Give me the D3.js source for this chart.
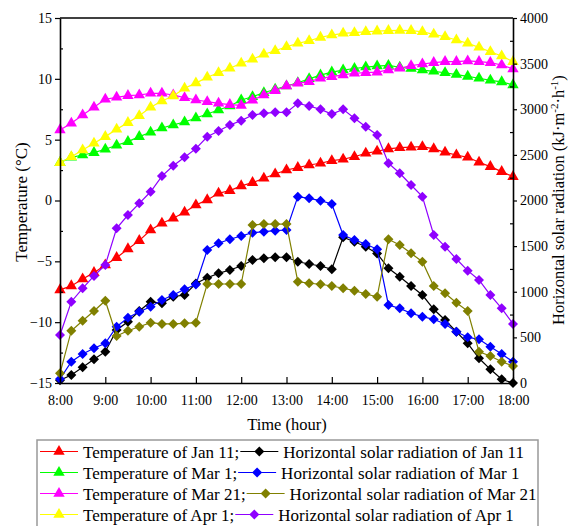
<!DOCTYPE html>
<html>
<head>
<meta charset="utf-8">
<script src="https://cdnjs.cloudflare.com/ajax/libs/d3/7.8.5/d3.min.js"></script>
<style>
  body { margin: 0; background: #fff; }
  svg text { font-family: "Liberation Serif", "Times New Roman", serif; fill: #000; }
</style>
</head>
<body>
<svg id="chart" width="568" height="526"></svg>
<script>
// time of day (hours), one point every 15 min
const times = [8, 8.25, 8.5, 8.75, 9, 9.25, 9.5, 9.75, 10, 10.25, 10.5, 10.75, 11, 11.25, 11.5, 11.75,
    12, 12.25, 12.5, 12.75, 13, 13.25, 13.5, 13.75, 14, 14.25, 14.5, 14.75, 15, 15.25, 15.5, 15.75,
    16, 16.25, 16.5, 16.75, 17, 17.25, 17.5, 17.75, 18];
const hourTicks = [8, 9, 10, 11, 12, 13, 14, 15, 16, 17, 18];

// temperature (°C)
const tempJan11 = [-7.35, -7.02, -6.45, -5.93, -5.30, -4.70, -3.98, -3.30, -2.42, -1.87, -1.46, -0.97, -0.37, 0.05, 0.60, 0.81,
    1.20, 1.47, 1.83, 2.18, 2.51, 2.70, 2.92, 3.06, 3.27, 3.39, 3.60, 3.88, 4.05, 4.24, 4.34, 4.38,
    4.42, 4.24, 3.96, 3.74, 3.55, 3.14, 2.78, 2.37, 1.96];
const tempMar1 = [3.11, 3.55, 3.74, 3.93, 4.21, 4.54, 4.84, 5.25, 5.61, 5.96, 6.21, 6.45, 6.78, 7.11, 7.44, 7.77,
    8.26, 8.53, 8.86, 9.14, 9.41, 9.68, 10.0, 10.3, 10.55, 10.72, 10.85, 10.97, 11.05, 11.1, 10.95, 10.85,
    10.72, 10.62, 10.5, 10.35, 10.2, 10.05, 9.88, 9.75, 9.5];
const tempMar21 = [5.80, 6.35, 7.03, 7.66, 8.32, 8.48, 8.62, 8.67, 8.81, 8.81, 8.67, 8.45, 8.26, 8.12, 7.99, 7.88,
    7.82, 8.25, 8.67, 9.03, 9.41, 9.63, 9.77, 10.05, 10.18, 10.32, 10.46, 10.51, 10.55, 10.73, 10.87, 11.08,
    11.22, 11.33, 11.41, 11.41, 11.47, 11.41, 11.33, 11.14, 10.81];
const tempApr1 = [3.11, 3.60, 4.15, 4.70, 5.25, 5.85, 6.40, 6.97, 7.66, 8.18, 8.59, 9.22, 9.65, 10.13, 10.5, 10.87,
    11.28, 11.61, 12.02, 12.31, 12.64, 12.92, 13.13, 13.41, 13.60, 13.74, 13.79, 13.87, 13.92, 13.96, 13.98, 13.96,
    13.87, 13.66, 13.46, 13.19, 12.92, 12.59, 12.23, 11.88, 11.41];

// horizontal solar radiation (kJ/m2/h)
const radJan11 = [30, 88, 172, 260, 343, 581, 672, 789, 891, 873, 946, 964, 1090, 1154, 1202, 1238,
    1282, 1348, 1367, 1378, 1378, 1329, 1304, 1282, 1246, 1597, 1548, 1494, 1420, 1257, 1165, 1063,
    964, 808, 690, 562, 435, 271, 150, 41, 0];
const radMar1 = [44, 233, 318, 380, 435, 617, 716, 781, 836, 910, 964, 1027, 1080, 1458, 1531, 1575,
    1611, 1647, 1658, 1669, 1677, 2042, 2024, 1998, 1962, 1622, 1567, 1523, 1465, 855, 818, 764,
    727, 698, 647, 562, 501, 479, 398, 318, 233];
const radMar21 = [106, 573, 683, 789, 902, 515, 573, 617, 661, 647, 647, 654, 661, 1085, 1085, 1085,
    1085, 1732, 1742, 1742, 1742, 1110, 1093, 1082, 1063, 1038, 1012, 975, 945, 1575, 1512, 1421,
    1329, 1063, 983, 880, 789, 343, 296, 233, 186];
const radApr1 = [526, 891, 1038, 1173, 1293, 1695, 1841, 1969, 2096, 2268, 2381, 2474, 2568, 2699, 2762, 2827,
    2875, 2937, 2955, 2966, 2966, 3065, 3036, 2999, 2948, 2999, 2901, 2809, 2718, 2408, 2298, 2170,
    2042, 1622, 1494, 1359, 1231, 1129, 964, 818, 647];

const tempLabels = ["Temperature of Jan 11;", "Temperature of Mar 1;", "Temperature of Mar 21;", "Temperature of Apr 1;"];
const radLabels = ["Horizontal solar radiation of Jan 11", "Horizontal solar radiation of Mar 1",
    "Horizontal solar radiation of Mar 21", "Horizontal solar radiation of Apr 1"];
const tempColors = ["#ff0000", "#00ff00", "#ff00ff", "#ffff00"];
const radColors = ["#000000", "#0000ff", "#808000", "#8f00ff"];

const tempSeries = [tempJan11, tempMar1, tempMar21, tempApr1];
const radSeries = [radJan11, radMar1, radMar21, radApr1];

const svg = d3.select("#chart");
const plotL = 60, plotR = 513, plotT = 18, plotB = 383;

const x = d3.scaleLinear().domain([8, 18]).range([plotL, plotR]);
const yT = d3.scaleLinear().domain([-15, 15]).range([plotB, plotT]);
const yR = d3.scaleLinear().domain([0, 4000]).range([plotB, plotT]);

const triangle = d3.symbol().type(d3.symbolTriangle).size(56);
const diamond = "M0,-5L5,0L0,5L-5,0Z";

function drawSeries(values, yScale, color, kind) {
    const pts = values.map((v, i) => [x(times[i]), yScale(v)]);
    svg.append("path")
        .attr("d", d3.line()(pts))
        .attr("fill", "none")
        .attr("stroke", color)
        .attr("stroke-width", 1.2);
    svg.append("g").selectAll("path")
        .data(pts)
        .join("path")
        .attr("transform", d => `translate(${d[0]},${d[1]})`)
        .attr("d", kind === "tri" ? triangle() : diamond)
        .attr("fill", color);
}

tempSeries.forEach((s, i) => drawSeries(s, yT, tempColors[i], "tri"));
radSeries.forEach((s, i) => drawSeries(s, yR, radColors[i], "dia"));

// axes
function styleAxis(g) {
    g.attr("font-family", null).attr("font-size", 14);
    g.selectAll(".domain").attr("stroke-width", 1.6);
    g.selectAll(".tick line").attr("stroke-width", 1.2);
}

svg.append("g")
    .attr("transform", `translate(0,${plotB})`)
    .call(d3.axisBottom(x).tickValues(hourTicks).tickFormat(d => d + ":00").tickSizeInner(-6).tickSizeOuter(0).tickPadding(12))
    .call(styleAxis);

svg.append("g")
    .attr("transform", `translate(${plotL},0)`)
    .call(d3.axisLeft(yT).tickValues([-15, -10, -5, 0, 5, 10, 15]).tickFormat(d3.format("d")).tickSizeInner(5).tickSizeOuter(0).tickPadding(3))
    .call(styleAxis);
svg.append("g")
    .attr("transform", `translate(${plotL},0)`)
    .call(d3.axisLeft(yT).tickValues([-12.5, -7.5, -2.5, 2.5, 7.5, 12.5]).tickSizeInner(-3).tickFormat(""))
    .call(g => g.select(".domain").remove())
    .call(styleAxis);

svg.append("g")
    .attr("transform", `translate(${plotR},0)`)
    .call(d3.axisRight(yR).tickValues(d3.range(0, 4001, 500)).tickFormat(d3.format("d")).tickSizeInner(4).tickSizeOuter(0).tickPadding(3))
    .call(styleAxis);
svg.append("g")
    .attr("transform", `translate(${plotR},0)`)
    .call(d3.axisRight(yR).tickValues(d3.range(250, 4000, 500)).tickSizeInner(-3).tickFormat(""))
    .call(g => g.select(".domain").remove())
    .call(styleAxis);

svg.append("line")
    .attr("x1", plotL).attr("x2", plotR)
    .attr("y1", plotT).attr("y2", plotT)
    .attr("stroke", "#000").attr("stroke-width", 1.6);

// axis titles
svg.append("text")
    .attr("x", 287).attr("y", 430)
    .attr("text-anchor", "middle")
    .style("font-size", "16.5px")
    .text("Time (hour)");

svg.append("text")
    .attr("transform", "translate(27,202) rotate(-90)")
    .attr("text-anchor", "middle")
    .style("font-size", "17px")
    .text("Temperature (°C)");

const rLabel = svg.append("text")
    .attr("transform", "translate(564,200) rotate(-90)")
    .attr("text-anchor", "middle")
    .style("font-size", "16.5px");
rLabel.append("tspan").text("Horizontal solar radiation (kJ·m");
rLabel.append("tspan").attr("dy", -6).style("font-size", "11px").text("-2");
rLabel.append("tspan").attr("dy", 6).text("·h");
rLabel.append("tspan").attr("dy", -6).style("font-size", "11px").text("-1");
rLabel.append("tspan").attr("dy", 6).text(")");

// legend
const legend = svg.append("g");
legend.append("rect")
    .attr("x", 37).attr("y", 440)
    .attr("width", 501).attr("height", 100)
    .attr("fill", "#fff")
    .attr("stroke", "#999")
    .attr("stroke-width", 1.5);

function legendSample(x0, y0, color, kind) {
    legend.append("line")
        .attr("x1", x0).attr("x2", x0 + 38)
        .attr("y1", y0).attr("y2", y0)
        .attr("stroke", color).attr("stroke-width", 1.2);
    legend.append("path")
        .attr("transform", `translate(${x0 + 19},${y0})`)
        .attr("d", kind === "tri" ? triangle() : diamond)
        .attr("fill", color);
}

tempLabels.forEach((lab, k) => {
    const yRow = 451.5 + k * 21;
    legendSample(40, yRow, tempColors[k], "tri");
    const t1 = legend.append("text")
        .attr("x", 83).attr("y", yRow + 6)
        .style("font-size", "17px")
        .text(lab);
    const end = 83 + t1.node().getComputedTextLength();
    legendSample(end + 1, yRow, radColors[k], "dia");
    legend.append("text")
        .attr("x", end + 44).attr("y", yRow + 6)
        .style("font-size", "17px")
        .text(radLabels[k]);
});
</script>
</body>
</html>
